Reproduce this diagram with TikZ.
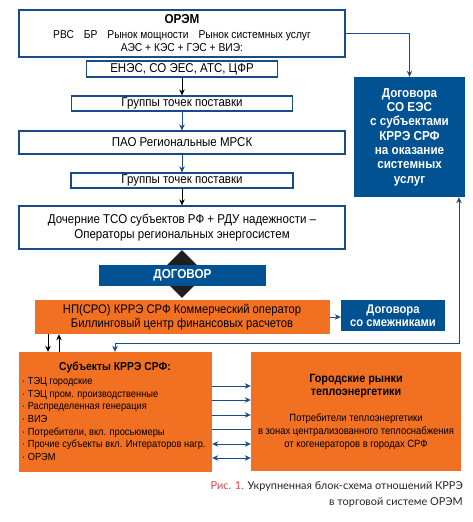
\documentclass[tikz,border=0pt]{standalone}
\usepackage{fontspec}
\setmainfont[FakeStretch=0.9]{Liberation Sans}
\newfontfamily\capfont{Lato}
\usetikzlibrary{shapes.geometric, arrows.meta}
\definecolor{lineblue}{RGB}{25,75,135}
\definecolor{boxblue}{RGB}{0,82,147}
\definecolor{boxorange}{RGB}{241,112,34}
\definecolor{capred}{RGB}{232,65,70}
\newcommand{\headfont}{\bfseries\fontsize{11.5}{14}\selectfont}
\tikzstyle{frame} = [draw=lineblue, line width=1.2pt, fill=white, inner sep=0pt, align=center, font=\fontsize{12.8}{15}\selectfont]
\tikzstyle{bluebox} = [fill=boxblue, text=white, inner sep=0pt, align=center, font=\bfseries\fontsize{13}{14.3}\selectfont]
\tikzstyle{orangebox} = [fill=boxorange, inner sep=0pt, align=center]
\tikzstyle{arrow} = [line width=0.9pt, ->]

\begin{document}
\begin{tikzpicture}[
    x=1pt, y=-1pt,
    >={Stealth[length=6pt,width=5.5pt]},
    bk/.style={arrow, draw=black},
    bl/.style={arrow, draw=lineblue},
    flow/.style={line width=0.9pt, draw=lineblue},
    fwd/.style={flow, ->},
    twoway/.style={flow, <->},
    nohead/.style={flow}
]
\fill[white] (0,0) rectangle (473,522);

% Nodes
\node[frame, minimum width=326pt, minimum height=47pt, font=\fontsize{11.4}{13}\selectfont] (orem) at (182,33.5)
  {\textbf{\fontsize{13}{14}\selectfont ОРЭМ}\\[2pt]
   РВС\hspace{10pt}БР\hspace{10pt}Рынок мощности\hspace{10pt}Рынок системных услуг\\
   АЭС + КЭС + ГЭС + ВИЭ:};
\node[frame, minimum width=191pt, minimum height=16pt] (enes) at (182,69) {ЕНЭС, СО ЭЕС, АТС, ЦФР};
\node[frame, minimum width=221pt, minimum height=15pt] (grp1) at (182,103.5) {Группы точек поставки};
\node[frame, minimum width=326pt, minimum height=23pt] (pao) at (182,142.5) {ПАО Региональные МРСК};
\node[frame, minimum width=222pt, minimum height=15pt] (grp2) at (182,180.5) {Группы точек поставки};
\node[frame, minimum width=326pt, minimum height=43pt] (tso) at (182,227.5)
  {Дочерние ТСО субъектов РФ + РДУ надежности --\\Операторы региональных энергосистем};

\node[bluebox, minimum width=111pt, minimum height=120pt] (soees) at (409.5,137)
  {Договора\\СО ЕЭС\\с субъектами\\КРРЭ СРФ\\на оказание\\системных\\услуг};

\node[orangebox, minimum width=295pt, minimum height=34pt, font=\fontsize{12.5}{14}\selectfont] (np) at (182,317)
  {НП(СРО) КРРЭ СРФ Коммерческий оператор\\Биллинговый центр финансовых расчетов};
\node[diamond, fill=black!88, minimum width=48pt, minimum height=48pt, inner sep=0pt] (dmd) at (182,274) {};
\node[bluebox, minimum width=167pt, minimum height=21pt] (dogovor) at (182.5,275.5) {ДОГОВОР};
\node[bluebox, minimum width=104pt, minimum height=31pt, font=\bfseries\fontsize{12.5}{13}\selectfont] (smezh) at (393,315.5)
  {Договора\\со смежниками};

\node[orangebox, minimum width=193pt, minimum height=120pt] (subj) at (115.5,412) {};
\node[font=\headfont, inner sep=0pt] (subjtitle) at (115,367) {Субъекты КРРЭ СРФ:};
\node[anchor=west, align=left, inner sep=0pt, font=\fontsize{10.3}{12.7}\selectfont] (subjlist) at (22,419)
  {· ТЭЦ городские\\
   · ТЭЦ пром. производственные\\
   · Распределенная генерация\\
   · ВИЭ\\
   · Потребители, вкл. просьюмеры\\
   · Прочие субъекты вкл. Интераторов нагр.\\
   · ОРЭМ};

\node[orangebox, minimum width=210pt, minimum height=119pt, font=\fontsize{10.5}{13}\selectfont] (city) at (356,411.5)
  {\textbf{\fontsize{12}{14}\selectfont Городские рынки}\\
   \textbf{\fontsize{12}{14}\selectfont теплоэнергетики}\\[13pt]
   Потребители теплоэнергетики\\
   в зонах централизованного теплоснабжения\\
   от когенераторов в городах СРФ};

\node[anchor=east, align=right, inner sep=0pt, font=\capfont\fontsize{10.9}{16}\selectfont, text=black!85] (caption) at (463,494)
  {\textcolor{capred}{Рис. 1.} Укрупненная блок-схема отношений КРРЭ\\в торговой системе ОРЭМ};

% Arrows
\coordinate (bend) at (115,343);
\draw[bl] (orem.east) -| (soees.north);
\draw[bk] (enes.south) -- (grp1.north);
\draw[bl] (grp1.south) -- (pao.north);
\draw[bl] (pao.south) -- (grp2.north);
\draw[bk] (grp2.south) -- (tso.north);
\draw[bl] (np.east) -- (np.east -| smezh.west);
\draw[bk] (np.south -| 48,0) -- (subj.north -| 48,0);
\draw[bk] (subj.north -| 59,0) -- (np.south -| 59,0);
\draw[twoway] (soees.south -| 459,0) |- (bend) -- (bend |- subj.north);
\foreach \yy/\kind in {386/fwd, 400/fwd, 415/fwd, 429/nohead, 444/twoway, 458/twoway}
  \draw[\kind] (subj.east |- 0,\yy) -- (city.west |- 0,\yy);

\end{tikzpicture}
\end{document}
